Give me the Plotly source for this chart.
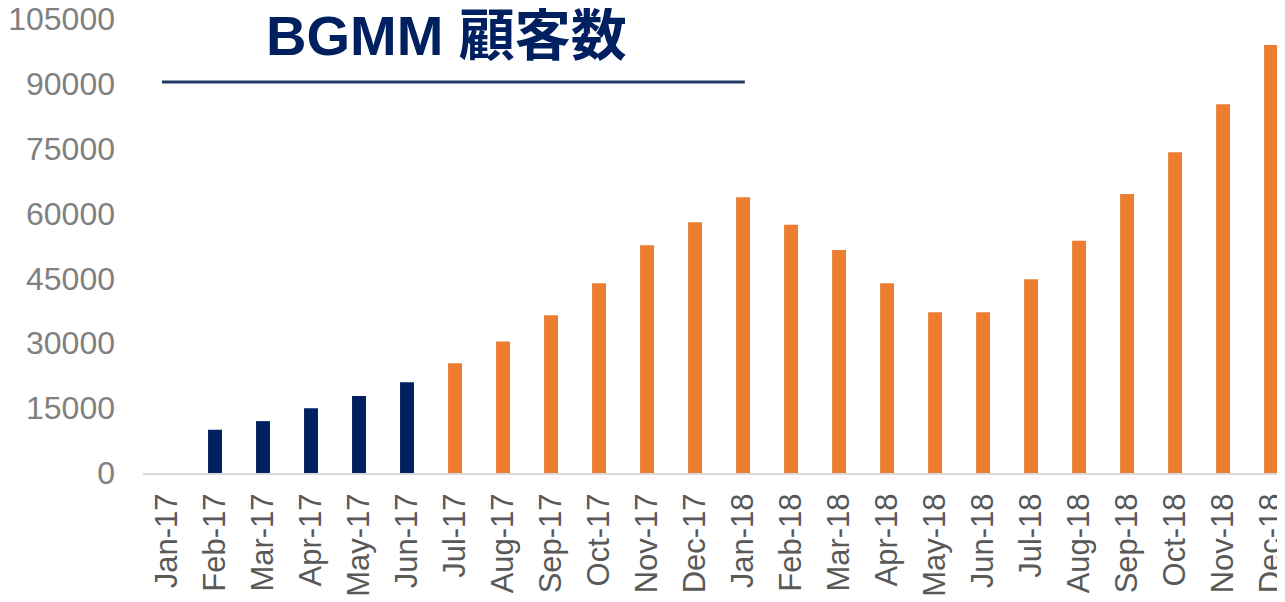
import plotly.graph_objects as go

months = ["Jan-17", "Feb-17", "Mar-17", "Apr-17", "May-17", "Jun-17",
          "Jul-17", "Aug-17", "Sep-17", "Oct-17", "Nov-17", "Dec-17",
          "Jan-18", "Feb-18", "Mar-18", "Apr-18", "May-18", "Jun-18",
          "Jul-18", "Aug-18", "Sep-18", "Oct-18", "Nov-18", "Dec-18"]
customers = [0, 10000, 12000, 15000, 17800, 21000,
             25400, 30400, 36500, 43900, 52700, 58000,
             63800, 57400, 51600, 43900, 37200, 37200,
             44800, 53700, 64500, 74200, 85300, 99000]
n_early = 6  # Jan-17 .. Jun-17 drawn in navy
y_ticks = [0, 15000, 30000, 45000, 60000, 75000, 90000, 105000]
title_text = "BGMM 顧客数"

NAVY = "#002060"
ORANGE = "#ED7D31"
colors = [NAVY if i < n_early else ORANGE for i in range(len(months))]

fig = go.Figure(go.Bar(
    x=months, y=customers, marker=dict(color=colors, line=dict(width=0)),
    width=0.29, hoverinfo="x+y",
))

FONT = "Liberation Sans, Arial, sans-serif"

fig.update_layout(
    width=1277, height=594,
    margin=dict(l=135, r=0, t=11, b=129, autoexpand=False),
    paper_bgcolor="white", plot_bgcolor="white",
    showlegend=False,
    xaxis=dict(
        type="category", range=[-0.5, 23.29], automargin=False,
        tickangle=-90, tickfont=dict(family=FONT, size=31, color="#595959"),
        showline=True, linecolor="#D9D9D9", linewidth=2,
        showgrid=False, ticks="", ticklabelstandoff=6,
        ticklabeloverflow="allow",
    ),
    yaxis=dict(
        range=[0, 105000], tickvals=y_ticks, ticktext=[str(v) for v in y_ticks],
        automargin=False,
        tickfont=dict(family=FONT, size=32, color="#808080"),
        showgrid=False, zeroline=False, showline=False, ticks="",
        ticklabelstandoff=27, ticklabeloverflow="allow",
    ),
    annotations=[dict(
        text=f"<b>{title_text}</b>", xref="paper", yref="paper",
        x=0.266, y=0.9626, xanchor="center", yanchor="middle", showarrow=False,
        font=dict(family="Liberation Sans, Noto Sans CJK JP, sans-serif", size=56, color=NAVY),
    )],
    shapes=[dict(
        type="line", xref="paper", yref="paper",
        x0=0.0166, x1=0.527, y0=0.861, y1=0.861,
        line=dict(color="#1F3864", width=3),
    )],
)

fig.write_html("out.html")
